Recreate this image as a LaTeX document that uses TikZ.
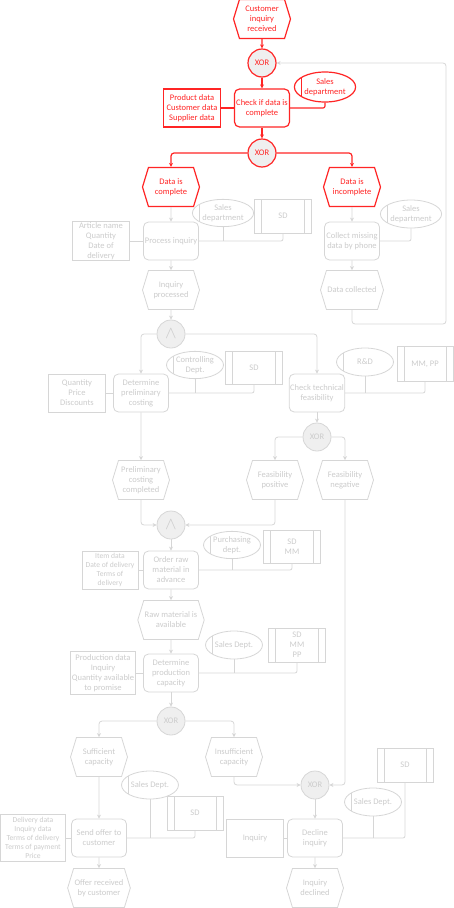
\documentclass[tikz,border=0pt]{standalone}
\usepackage{fontspec}
\setmainfont{Carlito}
\usetikzlibrary{arrows.meta,shapes.geometric,shapes.symbols}
\definecolor{epcred}{HTML}{FF2525}
\definecolor{epcgrey}{HTML}{D6D6D6}
\definecolor{epctext}{HTML}{CCCCCC}
\definecolor{opfill}{HTML}{EFEFEF}
\newcommand{\andsym}{{\fontsize{16}{16}\selectfont$\wedge$}}
\tikzset{
  base/.style={draw=epcgrey, text=epctext, line width=0.8pt, fill=white, align=center, inner sep=1pt},
  event/.style={base, signal, signal to=east and west, signal pointer angle=146, minimum width=57pt, minimum height=39pt},
  func/.style={base, rectangle, rounded corners=5pt, minimum width=55pt, minimum height=38pt},
  infobox/.style={base, rectangle, minimum width=57pt, minimum height=38pt},
  oper/.style={base, circle, fill=opfill, minimum size=28pt},
  orgu/.style={base, ellipse, minimum width=56pt, minimum height=28pt,
    path picture={\draw[#1, line width=0.8pt] ([xshift=7pt]path picture bounding box.north west) -- ([xshift=7pt]path picture bounding box.south west);}},
  orgu/.default=epcgrey,
  itsys/.style={base, rectangle, minimum width=57pt, minimum height=34pt,
    path picture={\draw[epcgrey, line width=0.8pt] ([xshift=7pt]path picture bounding box.north west) -- ([xshift=7pt]path picture bounding box.south west)
      ([xshift=-7pt]path picture bounding box.north east) -- ([xshift=-7pt]path picture bounding box.south east);}},
  hot/.style={draw=epcred, text=epcred, line width=1.2pt},
  link/.style={draw=epcgrey, line width=0.8pt, rounded corners=2pt},
  flow/.style={link, rounded corners=3pt, -{Stealth[length=4pt,width=4pt]}},
  hotflow/.style={flow, draw=epcred, line width=1.2pt},
  small/.style={font=\fontsize{7.6}{9}\selectfont}
}
\begin{document}
\begin{tikzpicture}[x=1pt, y=-1pt, font=\fontsize{8.5}{10}\selectfont]
\useasboundingbox (0,0) rectangle (454,908);
% start: check of the inquiry
\node[event, hot] (rcvd) at (262,19) {Customer\\inquiry\\received};
\node[oper, hot] (xa) at (262,63) {XOR};
\node[func, hot] (chk) at (262,108) {Check if data is\\complete};
\node[infobox, hot] (pdat) at (192,108) {Product data\\Customer data\\Supplier data};
\node[orgu=epcred, hot, minimum height=30pt] (salesa) at (325,87) {Sales\\department};
\node[oper, hot] (xb) at (262,153) {XOR};
\node[event, hot] (dcpl) at (171,187) {Data is\\complete};
\node[event, hot] (dinc) at (352,187) {Data is\\incomplete};
\draw[hotflow] (rcvd) -- (xa);
\draw[hotflow] (xa) -- (chk);
\draw[hotflow] (chk) -- (xb);
\draw[link, hot] (pdat) -- (chk);
\draw[link, hot] (chk.east) -| (salesa.south);
\draw[hotflow] (xb.west) -| (dcpl.north);
\draw[hotflow] (xb.east) -| (dinc.north);
% incomplete data: back to the start
\node[func] (coll) at (352,241) {Collect missing\\data by phone};
\node[orgu] (salesb) at (411,214) {Sales\\department};
\node[event] (dcol) at (352,290) {Data collected};
\coordinate (loopb) at (446,324);
\coordinate (loopt) at (446,63);
\draw[flow] (dinc) -- (coll);
\draw[flow] (coll) -- (dcol);
\draw[link] (coll.east) -| (salesb.south);
\draw[flow] (dcol.south) |- (loopb) -- (loopt) -- (xa.east);
% complete data
\node[func] (proc) at (171,241) {Process inquiry};
\node[infobox] (artc) at (101,241) {Article name\\Quantity\\Date of\\delivery};
\node[orgu, minimum height=27pt] (salesc) at (223,213) {Sales\\department};
\node[itsys] (sda) at (283,216) {SD};
\node[event] (iprc) at (171,290) {Inquiry\\processed};
\node[oper] (anda) at (171,334) {\andsym};
\draw[link] (artc) -- (proc);
\draw[link] (proc.east) -| (sda.south);
\draw[link] (salesc.south) -- (salesc.south |- proc.east);
% costing and feasibility
\node[func] (cost) at (141,393) {Determine\\preliminary\\costing};
\node[infobox] (qpd) at (77,393) {Quantity\\Price\\Discounts};
\node[orgu, minimum width=57pt, minimum height=27pt] (ctrl) at (195,365) {Controlling\\Dept.};
\node[itsys, minimum height=33pt] (sdb) at (254,368) {SD};
\node[func] (feas) at (317,393) {Check technical\\feasibility};
\node[orgu, minimum width=57pt] (rnd) at (365,362) {R\&D};
\node[itsys, minimum width=56pt, minimum height=35pt] (mmpp) at (425,364) {MM, PP};
\node[oper] (xc) at (317,437) {XOR};
\node[event] (fpos) at (275,480) {Feasibility\\positive};
\node[event] (fneg) at (345,480) {Feasibility\\negative};
\node[event] (pcc) at (141,480) {Preliminary\\costing\\completed};
\node[oper] (andb) at (171,525) {\andsym};
\draw[flow] (anda.west) -| (cost.north);
\draw[flow] (anda.east) -| (feas.north);
\draw[link] (qpd) -- (cost);
\draw[link] (cost.east) -| (sdb.south);
\draw[link] (ctrl.south) -- (ctrl.south |- cost.east);
\draw[link] (feas.east) -| (mmpp.south);
\draw[link] (rnd.south) -- (rnd.south |- feas.east);
\draw[flow] (xc.west) -| (fpos.north);
\draw[flow] (xc.east) -| (fneg.north);
\draw[flow] (pcc.south) |- (andb.west);
\draw[flow] (fpos.south) |- (andb.east);
% material and capacity
\node[func] (ordr) at (171,570) {Order raw\\material in\\advance};
\node[infobox, small, minimum width=56pt] (item) at (110,570) {Item data\\Date of delivery\\Terms of\\delivery};
\node[orgu, minimum width=57pt, minimum height=27pt] (purch) at (232,545) {Purchasing\\dept.};
\node[itsys, minimum height=33pt] (sdc) at (292,547) {SD\\MM};
\node[event] (rawm) at (171,620) {Raw material is\\available};
\node[func] (pcap) at (171,673) {Determine\\production\\capacity};
\node[infobox, minimum width=65pt, minimum height=43pt] (prod) at (103,673) {Production data\\Inquiry\\Quantity available\\to promise};
\node[orgu] (salesd) at (234,645) {Sales Dept.};
\node[itsys] (sdd) at (297,645) {SD\\MM\\PP};
\node[oper] (xd) at (171,721) {XOR};
\draw[link] (item) -- (ordr);
\draw[link] (ordr.east) -| (sdc.south);
\draw[link] (purch.south) -- (purch.south |- ordr.east);
\draw[link] (prod) -- (pcap);
\draw[link] (pcap.east) -| (sdd.south);
\draw[link] (salesd.south) -- (salesd.south |- pcap.east);
% main column arrows
\foreach \from/\to in {dcpl/proc, proc/iprc, iprc/anda, feas/xc, cost/pcc, andb/ordr, ordr/rawm, rawm/pcap, pcap/xd}
  \draw[flow] (\from) -- (\to);
% offer or decline
\node[event] (suff) at (99,757) {Sufficient\\capacity};
\node[event] (insf) at (234,757) {Insufficient\\capacity};
\node[orgu] (salese) at (150,785) {Sales Dept.};
\node[itsys, minimum width=56pt] (sde) at (195,813) {SD};
\node[func] (offr) at (99,838) {Send offer to\\customer};
\node[infobox, small, minimum width=65pt, minimum height=47pt] (deliv) at (33,838) {Delivery data\\Inquiry data\\Terms of delivery\\Terms of payment\\Price};
\node[event] (recv) at (99,888) {Offer received\\by customer};
\node[oper] (xe) at (315,785) {XOR};
\node[func] (decl) at (315,838) {Decline\\inquiry};
\node[infobox] (inqr) at (255,838) {Inquiry};
\node[orgu, minimum width=57pt] (salesf) at (373,802) {Sales Dept.};
\node[itsys, minimum width=56pt] (sdf) at (405,765) {SD};
\node[event] (idec) at (315,888) {Inquiry\\declined};
\draw[flow] (xd.west) -| (suff.north);
\draw[flow] (xd.east) -| (insf.north);
\draw[flow] (insf.south) |- (xe.west);
\draw[flow] (fneg.south) |- (xe.east);
\foreach \from/\to in {suff/offr, offr/recv, xe/decl, decl/idec}
  \draw[flow] (\from) -- (\to);
\draw[link] (deliv) -- (offr);
\draw[link] (offr.east) -| (sde.south);
\draw[link] (salese.south) -- (salese.south |- offr.east);
\draw[link] (inqr) -- (decl);
\draw[link] (decl.east) -| (sdf.south);
\draw[link] (salesf.south) -- (salesf.south |- decl.east);
\end{tikzpicture}
\end{document}
